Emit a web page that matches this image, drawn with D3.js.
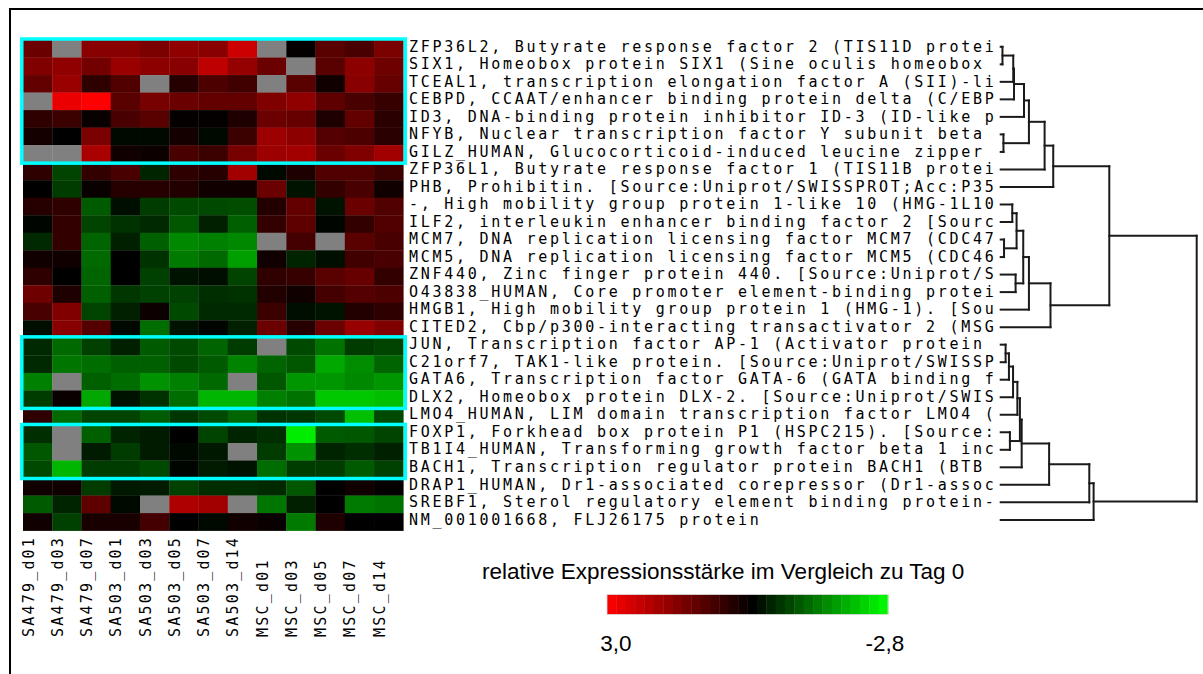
<!DOCTYPE html>
<html lang="en">

<head>
    <meta charset="UTF-8">
    <title>Expression heatmap</title>
    <script src="https://d3js.org/d3.v7.min.js"></script>
    <style>
        body,
        html {
            margin: 0;
            padding: 0;
            background: #fff;
        }

        .rowlabel,
        .collabel {
            font-family: "DejaVu Sans Mono", monospace;
            font-size: 15px;
            fill: #000;
        }

        .legend {
            font-family: "Liberation Sans", Arial, sans-serif;
            font-size: 22.5px;
            fill: #000;
        }
    </style>
</head>

<body>
    <svg width="1203" height="674" id="chart"></svg>

    <script>
        // samples (columns)
        const samples = ["SA479_d01", "SA479_d03", "SA479_d07", "SA503_d01", "SA503_d03", "SA503_d05",
            "SA503_d07", "SA503_d14", "MSC_d01", "MSC_d03", "MSC_d05", "MSC_d07", "MSC_d14"];

        // genes (rows), text as shown, cut at the label width
        const genes = [
            "ZFP36L2, Butyrate response factor 2 (TIS11D protei",
            "SIX1, Homeobox protein SIX1 (Sine oculis homeobox ",
            "TCEAL1, transcription elongation factor A (SII)-li",
            "CEBPD, CCAAT/enhancer binding protein delta (C/EBP",
            "ID3, DNA-binding protein inhibitor ID-3 (ID-like p",
            "NFYB, Nuclear transcription factor Y subunit beta ",
            "GILZ_HUMAN, Glucocorticoid-induced leucine zipper ",
            "ZFP36L1, Butyrate response factor 1 (TIS11B protei",
            "PHB, Prohibitin. [Source:Uniprot/SWISSPROT;Acc:P35",
            "-, High mobility group protein 1-like 10 (HMG-1L10",
            "ILF2, interleukin enhancer binding factor 2 [Sourc",
            "MCM7, DNA replication licensing factor MCM7 (CDC47",
            "MCM5, DNA replication licensing factor MCM5 (CDC46",
            "ZNF440, Zinc finger protein 440. [Source:Uniprot/S",
            "O43838_HUMAN, Core promoter element-binding protei",
            "HMGB1, High mobility group protein 1 (HMG-1). [Sou",
            "CITED2, Cbp/p300-interacting transactivator 2 (MSG",
            "JUN, Transcription factor AP-1 (Activator protein ",
            "C21orf7, TAK1-like protein. [Source:Uniprot/SWISSP",
            "GATA6, Transcription factor GATA-6 (GATA binding f",
            "DLX2, Homeobox protein DLX-2. [Source:Uniprot/SWIS",
            "LMO4_HUMAN, LIM domain transcription factor LMO4 (",
            "FOXP1, Forkhead box protein P1 (HSPC215). [Source:",
            "TB1I4_HUMAN, Transforming growth factor beta 1 inc",
            "BACH1, Transcription regulator protein BACH1 (BTB ",
            "DRAP1_HUMAN, Dr1-associated corepressor (Dr1-assoc",
            "SREBF1, Sterol regulatory element binding protein-",
            "NM_001001668, FLJ26175 protein"
        ];

        // relative expression vs day 0, null = missing (grey)
        const N = null;
        const values = [
            [1.25, N, 1.6, 1.6, 1.45, 1.7, 1.6, 2.4, N, 0.05, 1.05, 0.85, 1.45],
            [1.5, 1.7, 1.35, 1.8, 1.65, 1.6, 2.25, 1.75, 1.25, N, 1.05, 1.65, 1.3],
            [1.15, 1.8, 0.55, 0.95, N, 0.45, 0.9, 0.75, N, 1.05, 0.2, 1.6, 1.2],
            [N, 2.75, 3.0, 1.05, 1.4, 1.25, 1.15, 1.15, 1.5, 1.7, 1.1, 0.85, 0.65],
            [0.55, 0.7, 0.1, 0.85, 1.05, 0.05, 0.05, 0.35, 1.25, 1.2, 0.35, 1.15, 0.5],
            [0.25, 0, 1.45, -0.1, -0.1, 0.25, -0.1, 0.7, 1.85, 1.65, 1.0, 0.9, 0.5],
            [N, N, 2.0, 0.2, 0.15, 0.85, 0.7, 1.4, 1.85, 1.9, 1.25, 1.5, 1.9],
            [0.55, -0.75, 0.6, 0.85, -0.4, 0.55, 0.45, 1.9, -0.1, 0.35, 0.95, 0.95, 0.7],
            [0, -0.65, 0.1, 0.45, 0.45, 0.4, 0.2, 0.2, 1.25, -0.2, 0.6, 0.85, 0.2],
            [0.45, 0.55, -1.0, -0.15, -0.65, -0.8, -0.8, -0.85, 0.4, 1.15, -0.2, 1.25, 0.95],
            [-0.05, 0.6, -0.75, -0.55, -0.45, -0.95, -0.35, -1.05, 0.6, 1.1, -0.05, 0.6, 0.95],
            [-0.45, 0.6, -1.1, -0.35, -1.05, -1.5, -1.4, -1.5, N, 0.8, N, 1.05, 0.85],
            [0.2, 0.2, -1.15, 0, -0.55, -1.35, -1.15, -1.75, 0.2, -0.4, -0.15, 0.75, 0.85],
            [0.55, 0, -1.1, 0, -0.7, -0.2, -0.15, -0.75, 0.55, 0.65, 1.05, 1.2, 0.6],
            [1.3, 0.35, -1.05, -0.6, -0.7, -0.7, -0.5, -0.55, 0.4, 0.2, 0.8, 1.0, 0.9],
            [0.85, 1.5, -0.75, -0.35, 0.15, -0.8, -0.45, -0.45, 0.7, -0.15, -0.2, 0.4, 0.55],
            [-0.15, 1.6, 1.0, -0.1, -1.2, -0.2, -0.05, -0.35, 1.25, 0.45, 1.25, 1.8, 1.5],
            [-0.45, -1.15, -0.7, -0.35, -1.0, -0.8, -1.1, -0.65, N, -0.8, -1.25, -0.65, -0.75],
            [-0.45, -1.3, -1.2, -1.05, -1.05, -0.8, -1.0, -1.45, -1.1, -0.95, -1.85, -1.55, -1.1],
            [-1.4, N, -1.05, -1.2, -1.6, -1.4, -1.15, N, -0.95, -1.65, -1.65, -1.5, -1.65],
            [-0.65, 0.1, -1.85, -0.2, -0.55, -1.2, -2.0, -2.0, -1.4, -1.25, -2.2, -2.2, -2.1],
            [0.55, -1.15, -0.75, -0.75, -1.0, -0.6, -0.8, -1.1, -0.55, -0.6, -0.8, -2.1, -0.8],
            [-0.5, N, -1.05, -0.4, -0.3, 0, -0.75, -0.4, -0.5, -2.6, -1.0, -0.95, -0.75],
            [-0.95, N, -0.3, -0.65, -0.3, -0.1, -0.25, N, -0.65, -1.6, -0.4, -0.5, -0.35],
            [-0.8, -2.0, -0.65, -0.65, -0.8, -0.05, -0.3, -0.2, -1.2, -0.65, -0.65, -1.0, -0.7],
            [0.2, 0.2, -0.65, -0.25, -0.3, -0.7, -0.5, -0.5, -0.45, -0.95, 0, 0.2, 0.05],
            [-1.0, -0.4, 1.1, -0.1, N, 2.05, 1.9, N, -1.3, -0.35, 0, -1.35, -1.25],
            [0.2, -0.7, 0.3, 0.3, 0.8, 0, -0.1, 0.2, 0.1, -1.35, 0.35, 0, 0]
        ];

        // highlighted gene blocks [first row, last row]
        const boxes = [[0, 6], [17, 20], [22, 24]];

        // dendrogram merges: [child a, child b, height]; ids >= 28 are earlier merges
        const merges = [
            [0, 1, 0.9], [28, 2, 6.4], [29, 3, 6.8], [30, 4, 11.9], [5, 6, 1.4],
            [31, 32, 14.4], [33, 7, 22.4], [34, 8, 26.8],
            [9, 10, 5.9], [11, 12, 1.7], [36, 37, 8.1], [13, 14, 7.6], [38, 39, 11.5],
            [40, 15, 14.4], [41, 16, 25.4], [35, 42, 55.4],
            [17, 18, 2.5], [44, 19, 4.2], [45, 20, 6.3], [46, 21, 8.5], [22, 23, 4.7],
            [47, 48, 9.8], [49, 24, 10.7], [50, 25, 24.7], [51, 26, 45.2], [52, 27, 47.4],
            [43, 53, 100]
        ];

        // legend
        const legendTitle = "relative Expressionsstärke im Vergleich zu Tag 0";
        const legendMax = 3.0;
        const legendMin = -2.8;
        const legendLabels = ["3,0", "-2,8"];

        const svg = d3.select("#chart");

        // page frame
        svg.append("rect")
            .attr("x", 10).attr("y", 9)
            .attr("width", 1400).attr("height", 900)
            .attr("fill", "none")
            .attr("stroke", "#000")
            .attr("stroke-width", 2);

        const x = d3.scaleBand().domain(d3.range(samples.length)).range([23, 403.3]);
        const y = d3.scaleBand().domain(d3.range(genes.length)).range([40, 530.6]);

        const color = d3.scaleLinear()
            .domain([legendMin, 0, legendMax])
            .range(["#00ff00", "#000000", "#ff0000"])
            .clamp(true);

        // heatmap cells
        const cells = [];
        values.forEach((row, r) => row.forEach((v, c) => cells.push({ r, c, v })));

        svg.append("g")
            .selectAll("rect")
            .data(cells)
            .enter()
            .append("rect")
            .attr("x", d => x(d.c))
            .attr("y", d => y(d.r))
            .attr("width", x.bandwidth() + 0.3)
            .attr("height", y.bandwidth() + 0.3)
            .attr("fill", d => d.v === null ? "#808080" : color(d.v));

        // cyan boxes
        svg.append("g")
            .selectAll("rect")
            .data(boxes)
            .enter()
            .append("rect")
            .attr("x", x(0) - 1.2)
            .attr("y", d => y(d[0]) - 1)
            .attr("width", x.range()[1] - x(0) + 3.2)
            .attr("height", d => y(d[1]) + y.bandwidth() - y(d[0]) + 1.5)
            .attr("fill", "none")
            .attr("stroke", "#00ffff")
            .attr("stroke-width", 3.5);

        // row labels
        svg.append("clipPath").attr("id", "labclip")
            .append("rect").attr("x", 400).attr("y", 0).attr("width", 596).attr("height", 674);

        svg.append("g")
            .attr("clip-path", "url(#labclip)")
            .selectAll("text")
            .data(genes)
            .enter()
            .append("text")
            .attr("class", "rowlabel")
            .attr("x", 409)
            .attr("y", (d, i) => y(i) + 11.5)
            .attr("letter-spacing", 2.72)
            .text(d => d);

        // column labels
        svg.append("g")
            .selectAll("text")
            .data(samples)
            .enter()
            .append("text")
            .attr("class", "collabel")
            .attr("transform", (d, i) => `translate(${x(i) + 10.5},637) rotate(-90)`)
            .attr("letter-spacing", 2.2)
            .text(d => d);

        // dendrogram
        const dx = d3.scaleLinear().domain([0, 100]).range([1000.7, 1196.7]);
        const nodes = genes.map((g, i) => ({ y: y(i) + 6.8, h: 0 }));
        const segs = [];
        merges.forEach(m => {
            const a = nodes[m[0]], b = nodes[m[1]];
            segs.push([dx(a.h), a.y, dx(m[2]), a.y]);
            segs.push([dx(b.h), b.y, dx(m[2]), b.y]);
            segs.push([dx(m[2]), a.y, dx(m[2]), b.y]);
            nodes.push({ y: (a.y + b.y) / 2, h: m[2] });
        });

        svg.append("g")
            .selectAll("line")
            .data(segs)
            .enter()
            .append("line")
            .attr("x1", d => d[0]).attr("y1", d => d[1])
            .attr("x2", d => d[2]).attr("y2", d => d[3])
            .attr("stroke", "#1a1a1a")
            .attr("stroke-width", 2)
            .attr("stroke-linecap", "square");

        // colour legend
        svg.append("text")
            .attr("class", "legend")
            .attr("x", 482)
            .attr("y", 579)
            .text(legendTitle);

        const lx = d3.scaleLinear().domain([legendMax, legendMin]).range([607, 888]);
        const steps = 30;
        const stepVals = d3.range(steps).map(i => legendMax + (legendMin - legendMax) * (i + 0.5) / steps);
        const stepW = (lx.range()[1] - lx.range()[0]) / steps;

        svg.append("g")
            .selectAll("rect")
            .data(stepVals)
            .enter()
            .append("rect")
            .attr("x", d => lx(d) - stepW / 2)
            .attr("y", 594.5)
            .attr("width", stepW + 0.4)
            .attr("height", 20)
            .attr("fill", d => color(d));

        svg.append("rect")
            .attr("x", 607).attr("y", 594.5)
            .attr("width", 281).attr("height", 20)
            .attr("fill", "none")
            .attr("stroke", "#ddd")
            .attr("stroke-width", 0.8);

        svg.append("g")
            .selectAll("text")
            .data([legendMax, legendMin])
            .enter()
            .append("text")
            .attr("class", "legend")
            .attr("x", (d, i) => lx(d) + (i === 0 ? 9 : -3))
            .attr("y", 651)
            .attr("text-anchor", "middle")
            .text((d, i) => legendLabels[i]);
    </script>
</body>

</html>
